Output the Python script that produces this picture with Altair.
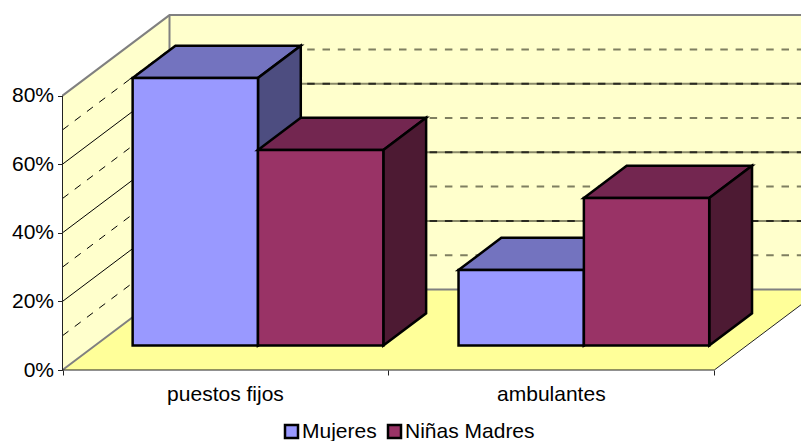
import altair as alt
import pandas as pd

CATEGORIES = ["puestos fijos", "ambulantes"]
SERIES = ["Mujeres", "Niñas Madres"]
MUJERES = [78, 22]
NINAS = [57, 43]
FRONT = ["#9999FF", "#993366"]
TOP = ["#7373BF", "#732650"]
SIDE = ["#4D4D80", "#4D1A33"]
Y_TICKS = [0, 20, 40, 60, 80]
FONT = "Liberation Sans"
FS = 21

W, H = 793, 433

# oblique projection: one unit of depth, in category units and in percent
PX_CAT = 325.9
PX_PCT = 3.43
KX = 107 / PX_CAT
KY = 80.5 / PX_PCT
TOP_PCT = 80
BAR_W = 1 / 2.6
GAP = 0.3 / 2.6
D0, D1 = 0.304, 0.704

x_scale = alt.Scale(domain=[(8 - 62.5) / PX_CAT, (8 + W - 62.5) / PX_CAT], range=[0, W], nice=False, zero=False)
y_scale = alt.Scale(domain=[(370 - 8 - H) / PX_PCT, (370 - 8) / PX_PCT], range=[H, 0], nice=False, zero=False)

X = alt.X("x:Q", scale=x_scale, title=None, axis=alt.Axis(
    values=[0, 1, 2], labels=False, domain=False, grid=False, offset=-(8 + H - 370),
    tickSize=5, tickColor="#222222", tickWidth=1))
Y = alt.Y("y:Q", scale=y_scale, title=None, axis=alt.Axis(
    values=Y_TICKS, labelExpr="datum.value + '%'", domain=False, grid=False, offset=-54.5,
    tickSize=5, tickColor="#222222", tickWidth=1, labelFont=FONT, labelFontSize=FS,
    labelColor="#000000", labelPadding=4, labelBound=False))


def proj(u, v, d):
    return {"x": u + d * KX, "y": v + d * KY}


def poly(points, **mark):
    rows = [dict(p, i=i) for i, p in enumerate(points)]
    return alt.Chart(pd.DataFrame(rows)).mark_line(**mark).encode(X, Y, order="i:Q")


def face(points, fill, stroke, width):
    return poly(list(points) + [points[0], points[1]], fill=fill, stroke=stroke, strokeWidth=width,
                strokeJoin="miter", strokeCap="butt")


n = len(CATEGORIES)
layers = []
END = n
layers.append(face([proj(0, 0, 0), proj(END, 0, 0), proj(END, 0, 1), proj(0, 0, 1)], "#FFFF99", "#FFFF99", 0))
layers.append(face([proj(0, 0, 1), proj(END, 0, 1), proj(END, TOP_PCT, 1), proj(0, TOP_PCT, 1)], "#FFFFCC", "#FFFFCC", 0))
layers.append(face([proj(0, 0, 0), proj(0, 0, 1), proj(0, TOP_PCT, 1), proj(0, TOP_PCT, 0)], "#FFFFCC", "#FFFFCC", 0))

DASH = [7.5, 7.8]
for v in range(10, TOP_PCT, 10):
    major = v % 20 == 0
    back = [proj(0, v, 1), proj(END, v, 1)]
    left = [proj(0, v, 0), proj(0, v, 1)]
    if major:
        layers.append(poly(back, stroke="#8A8A68", strokeWidth=2))
        layers.append(poly(back, stroke="#2A2A20", strokeWidth=2, strokeDash=DASH))
        layers.append(poly(left, stroke="#000000", strokeWidth=1))
    else:
        layers.append(poly(back, stroke="#7F7F60", strokeWidth=2, strokeDash=DASH))
        layers.append(poly(left, stroke="#000000", strokeWidth=1, strokeDash=DASH))

GREY = "#808080"
layers.append(poly([proj(0, 0, 0), proj(0, 0, 1), proj(END, 0, 1)], stroke=GREY, strokeWidth=2))
layers.append(poly([proj(0, TOP_PCT, 0), proj(0, TOP_PCT, 1), proj(END, TOP_PCT, 1)], stroke=GREY, strokeWidth=2))
layers.append(poly([proj(0, 0, 1), proj(0, TOP_PCT, 1)], stroke=GREY, strokeWidth=2))
layers.append(poly([proj(0, TOP_PCT, 0), proj(0, 0, 0), proj(END, 0, 0), proj(END, 0, 1)], stroke="#222222", strokeWidth=1))

BW = 2.5
for c in range(n):
    for s, vals in enumerate([MUJERES, NINAS]):
        v = vals[c]
        a = c + GAP + s * BAR_W
        b = a + BAR_W
        layers.append(face([proj(a, v, D0), proj(b, v, D0), proj(b, v, D1), proj(a, v, D1)], TOP[s], "#000000", BW))
        layers.append(face([proj(b, 0, D0), proj(b, 0, D1), proj(b, v, D1), proj(b, v, D0)], SIDE[s], "#000000", BW))
        layers.append(face([proj(a, 0, D0), proj(b, 0, D0), proj(b, v, D0), proj(a, v, D0)], FRONT[s], "#000000", BW))

cat_df = pd.DataFrame({"x": [i + 0.5 for i in range(n)], "y": [0] * n, "label": CATEGORIES})
layers.append(alt.Chart(cat_df).mark_text(font=FONT, fontSize=FS, dy=25, color="#000000", baseline="middle").encode(X, Y, text="label:N"))

leg_df = pd.DataFrame({"x": [0, 0], "y": [0, 0], "serie": SERIES})
layers.append(alt.Chart(leg_df).mark_point(filled=True, size=0, shape="square").encode(
    X, Y,
    fill=alt.Fill("serie:N", scale=alt.Scale(domain=SERIES, range=FRONT), legend=alt.Legend(
        orient="none", legendX=273, legendY=413, direction="horizontal", title=None,
        symbolType="square", symbolSize=169, symbolStrokeColor="#000000", symbolStrokeWidth=2.5,
        symbolOpacity=1, labelFont=FONT, labelFontSize=FS, labelColor="#000000",
        labelOffset=0, columnPadding=6, padding=0))))

chart = alt.layer(*layers).properties(
    width=W, height=H, padding=0, autosize=alt.AutoSizeParams(type="none"), background="#FFFFFF"
).configure_view(stroke=None)

chart.save("out.html", embed_options={"renderer": "svg", "actions": False})
